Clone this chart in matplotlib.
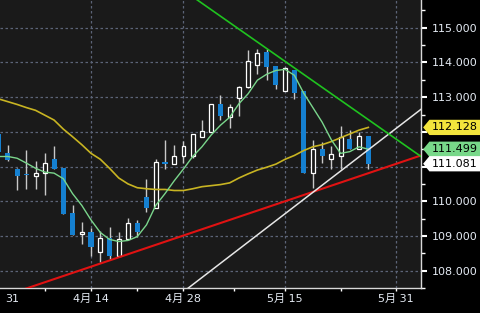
import numpy as np
import matplotlib
matplotlib.use("Agg")
import matplotlib.pyplot as plt
from matplotlib.patches import Polygon
from matplotlib.transforms import blended_transform_factory

# daily bars, index 0 = 31 Mar ... 40 = 26 May
opens = [111.94, 111.38, 110.93, 110.79, 110.73, 110.81, 111.21, 110.95, 109.66, 109.07,
         109.12, 108.53, 108.95, 108.42, 108.90, 109.38, 110.11, 109.80, 111.12, 111.07,
         111.29, 111.29, 111.86, 112.00, 112.79, 112.42, 112.98, 113.29, 113.94, 114.31,
         113.91, 113.18, 113.77, 113.18, 110.81, 111.52, 111.21, 111.29, 111.80, 111.52,
         111.88]
highs = [111.94, 111.63, 110.96, 111.49, 111.15, 111.38, 111.60, 110.95, 109.88, 109.41,
         109.24, 109.15, 109.26, 109.12, 109.52, 109.46, 110.65, 111.21, 111.77, 111.63,
         111.74, 111.94, 112.34, 112.79, 113.07, 112.81, 113.32, 114.36, 114.39, 114.39,
         113.91, 113.88, 113.77, 113.18, 111.77, 111.72, 111.60, 112.17, 112.05, 112.00,
         111.88]
lows = [111.43, 111.15, 110.31, 110.34, 110.36, 110.17, 110.93, 109.63, 109.04, 108.76,
        108.42, 108.25, 108.33, 108.42, 108.90, 108.98, 109.69, 109.80, 110.93, 111.07,
        111.10, 111.24, 111.86, 112.00, 112.34, 112.11, 112.45, 113.26, 113.66, 113.49,
        113.24, 113.18, 112.95, 110.81, 110.39, 111.10, 110.93, 110.93, 111.52, 111.52,
        110.93]
closes = [111.43, 111.18, 110.73, 110.76, 110.81, 111.10, 110.93, 109.63, 109.04, 109.12,
          108.67, 108.95, 108.42, 108.90, 109.38, 109.12, 109.80, 111.12, 111.07, 111.29,
          111.60, 111.94, 112.03, 112.79, 112.45, 112.73, 113.29, 114.03, 114.28, 113.86,
          113.35, 113.83, 113.12, 110.81, 111.52, 111.29, 111.35, 111.86, 111.52, 111.88,
          111.081]

ma_fast = [111.29, 111.29, 111.24, 111.10, 110.95, 110.84, 110.81, 110.65, 110.22, 109.88,
           109.46, 109.10, 108.90, 108.84, 108.87, 108.98, 109.32, 109.88, 110.22, 110.59,
           110.93, 111.29, 111.57, 111.91, 112.19, 112.42, 112.81, 113.10, 113.49, 113.66,
           113.77, 113.80, 113.63, 113.12, 112.70, 112.28, 111.77, 111.38, 111.43, 111.57,
           111.499]
ma_slow = [112.95, 112.87, 112.79, 112.70, 112.62, 112.48, 112.34, 112.08, 111.86, 111.63,
           111.38, 111.21, 110.95, 110.67, 110.50, 110.39, 110.36, 110.34, 110.34, 110.31,
           110.31, 110.36, 110.42, 110.45, 110.48, 110.53, 110.67, 110.79, 110.90, 110.98,
           111.07, 111.21, 111.32, 111.46, 111.57, 111.63, 111.72, 111.83, 111.94, 112.05,
           112.128]

# trend lines as (x0, y0, x1, y1)
trend_green = (21.5, 115.80, 45.7, 111.29)
trend_white = (21.6, 107.72, 45.7, 112.65)
trend_red = (5.6, 107.72, 45.7, 111.32)

date_pos = [10, 20, 31, 43]
date_labels = ['4月 14', '4月 28', '5月 15', '5月 31']
first_label = '31'
price_ticks = [108, 109, 110, 111, 112, 113, 114, 115]
last_values = [112.128, 111.499, 111.081]

plt.rcParams['font.family'] = ['DejaVu Sans', 'Noto Sans CJK JP']

bg = '#1a1a1a'
txt = '#e4eaf3'
fig = plt.figure(figsize=(4.8, 3.13), dpi=100, facecolor='black')
ax = fig.add_axes([0, 1 - 288 / 313, 421 / 480, 288 / 313])
ax.set_facecolor(bg)
ax.set_xlim(0.15, 45.7)
ax.set_ylim(107.66, 115.80)

x = np.arange(len(opens))
o, h, l, c = map(np.array, (opens, highs, lows, closes))
up = c >= o
ax.vlines(x, l, h, color='#c8c8c8', lw=1, zorder=2)
ax.bar(x[~up], np.maximum(o - c, 0.03)[~up], bottom=c[~up], width=0.55,
       color='#1580d0', lw=0, zorder=3)
ax.bar(x[up], np.maximum(c - o, 0.03)[up], bottom=o[up], width=0.42,
       facecolor=bg, edgecolor='white', lw=0.9, zorder=3)

ax.plot(x, ma_slow, color='#c8b422', lw=1.2, zorder=4)
ax.plot(x, ma_fast, color='#7ad68c', lw=1.0, zorder=4)

xx = np.array([-2, 47])
for (x0, y0, x1, y1), col, lw in [(trend_red, '#e01212', 1.5),
                                  (trend_white, '#e6e6e6', 1.1),
                                  (trend_green, '#1fc21f', 1.2)]:
    k = (y1 - y0) / (x1 - x0)
    ax.plot(xx, y0 + k * (xx - x0), color=col, lw=lw, zorder=5)

# axes, ticks, grid
for s in ['left', 'top']:
    ax.spines[s].set_visible(False)
for s in ['right', 'bottom']:
    ax.spines[s].set_color('#d8d8d8')
    ax.spines[s].set_linewidth(1)
ax.yaxis.tick_right()
ax.set_yticks(price_ticks)
ax.set_yticklabels(['' if v in (111, 112) else f'{v:.3f}' for v in price_ticks])
ax.set_yticks(np.arange(107.5, 116, 1), minor=True)
ax.set_xticks(date_pos)
ax.set_xticklabels(date_labels)
mids = [(a + b) / 2 for a, b in zip([0] + date_pos[:-1], date_pos)]
ax.set_xticks(mids, minor=True)
ax.tick_params(axis='y', which='major', length=4, width=1.5, colors='white',
               labelcolor=txt, labelsize=8, pad=4)
ax.tick_params(axis='y', which='minor', length=3, width=1, colors='white')
ax.tick_params(axis='x', which='both', length=2.5, width=1, colors='white',
               labelcolor=txt, labelsize=8, pad=1.5)
ax.annotate(first_label, xy=(1.45, 0), xycoords=('data', 'axes fraction'),
            xytext=(0, -4), textcoords='offset points', ha='center', va='top',
            fontsize=8, color=txt, annotation_clip=False)
ax.grid(True, which='major', color='#5c6478', ls=(0, (2, 2)), lw=0.9)
ax.set_axisbelow(True)

# last value tags on the price axis
trans = blended_transform_factory(ax.transAxes, ax.transData)
hh = 0.22
for val, col in zip(last_values, ['#f2e43c', '#78d889', '#ffffff']):
    poly = Polygon([(1.005, val), (1.02, val + hh), (1.15, val + hh),
                    (1.15, val - hh), (1.02, val - hh)], closed=True,
                   transform=trans, facecolor=col, edgecolor='none',
                   clip_on=False, zorder=6)
    ax.add_patch(poly)
    ax.text(1.025, val, f'{val:.3f}', transform=trans, ha='left', va='center',
            fontsize=8, color='black', clip_on=False, zorder=7)

fig.savefig('out.png', dpi=100, facecolor='black')
